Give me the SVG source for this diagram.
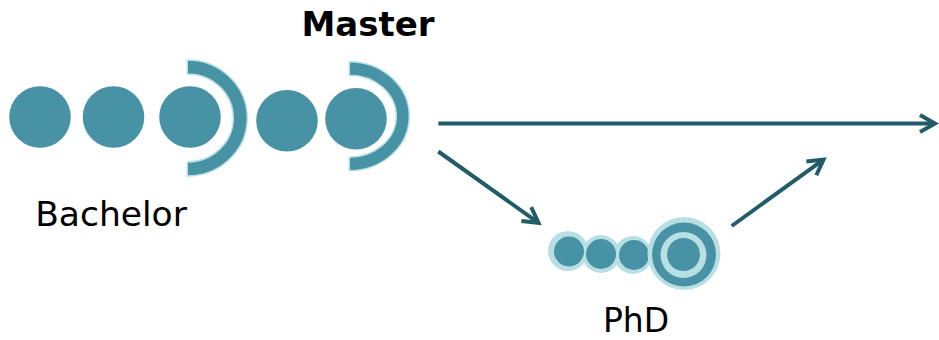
<svg xmlns="http://www.w3.org/2000/svg" width="939" height="340" viewBox="0 0 939 340">
<style>
.dot{fill:#4792a5;}
.arc{fill:#4792a5;stroke:#b8e0e4;stroke-width:1.5;}
.halo{fill:#b8e0e4;}
.lbl{font-family:"DejaVu Sans","Verdana",sans-serif;fill:#000;text-anchor:middle;}
.conn{fill:none;stroke:#235c69;stroke-width:4;}
</style>
<defs>
<marker id="ah" markerUnits="userSpaceOnUse" viewBox="-20 -12 24 24" markerWidth="24" markerHeight="24" refX="0" refY="0" orient="auto">
<path d="M-15,-8.5 L0,0 L-15,8.5" fill="none" stroke="#235c69" stroke-width="4" stroke-linejoin="miter"/>
</marker>
</defs>
<g id="master-label"><text class="lbl" x="368" y="36" font-size="34" font-weight="bold">Master</text></g>
<g id="bachelor">
<circle class="dot" cx="40" cy="117" r="30.8"/>
<circle class="dot" cx="113.5" cy="117" r="30.8"/>
<circle class="dot" cx="190" cy="117" r="30.8"/>
<path class="arc" d="M187.3,60 A60,58 0 0 1 187.3,176 L187.3,162 A46,44 0 0 0 187.3,74 Z"/>
<text class="lbl" x="111" y="226" font-size="34.5">Bachelor</text>
</g>
<g id="master">
<circle class="dot" cx="287" cy="120.7" r="30.8"/>
<circle class="dot" cx="356" cy="118.7" r="30.8"/>
<path class="arc" d="M349.3,61.7 A60,54.5 0 0 1 349.3,170.7 L349.3,157.2 A47,41 0 0 0 349.3,75.2 Z"/>
</g>
<g id="phd">
<circle class="halo" cx="568" cy="251" r="20"/>
<circle class="halo" cx="601" cy="254" r="19"/>
<circle class="halo" cx="633" cy="255" r="19"/>
<circle class="dot" cx="569" cy="251.5" r="15"/>
<circle class="dot" cx="601" cy="254" r="15"/>
<circle class="dot" cx="634" cy="255" r="15"/>
<circle class="halo" cx="684" cy="253.5" r="36.5"/>
<circle class="dot" cx="684" cy="254.5" r="32"/>
<circle class="halo" cx="683.5" cy="255" r="23"/>
<circle class="dot" cx="683.5" cy="254.5" r="16.5"/>
<text class="lbl" x="636" y="332" font-size="33">PhD</text>
</g>
<g id="connectors">
<path class="conn" d="M438.3,123.5 L935,123.5" marker-end="url(#ah)"/>
<path class="conn" d="M438.3,151.5 L538.5,222.8" marker-end="url(#ah)"/>
<path class="conn" d="M731.7,226 L823.5,159.6" marker-end="url(#ah)"/>
</g>
</svg>
